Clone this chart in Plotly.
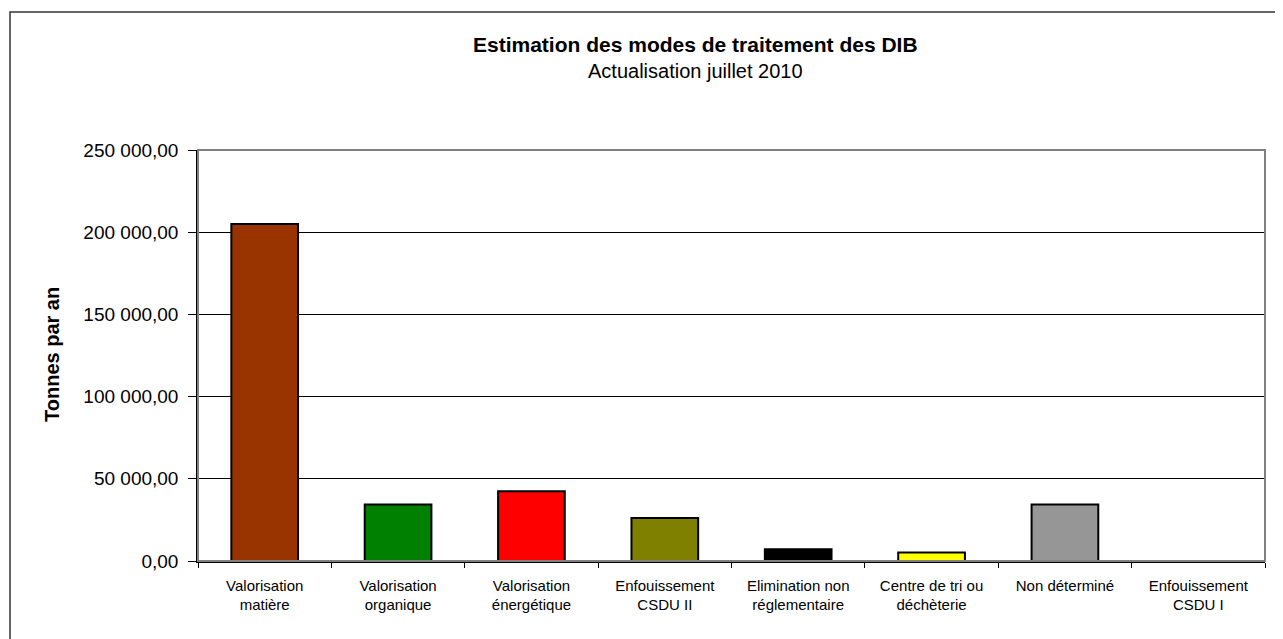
import plotly.graph_objects as go

categories = [
    "Valorisation<br>matière",
    "Valorisation<br>organique",
    "Valorisation<br>énergétique",
    "Enfouissement<br>CSDU II",
    "Elimination non<br>réglementaire",
    "Centre de tri ou<br>déchèterie",
    "Non déterminé",
    "Enfouissement<br>CSDU I",
]
values = [205000, 34300, 42400, 26200, 7100, 5100, 34300, 0]
colors = ["#993300", "#008000", "#FF0000", "#808000", "#000000", "#FFFF00", "#969696", "#808080"]

title_text = "<b>Estimation des modes de traitement des DIB</b>"
subtitle_text = "Actualisation juillet 2010"
y_title = "<b>Tonnes par an</b>"

# page has an 8px body margin; positions below are in screen pixels
OFF = 8
W, H = 1283, 639
L, T = 198 - OFF, 150 - OFF
R = W - (1265 - OFF)
B = H - (561 - OFF)
pw, ph = W - L - R, H - T - B

def px_x(x):
    return (x - OFF - L) / pw

def px_y(y):
    return (H - B - (y - OFF)) / ph

font = "Liberation Sans, Arial, sans-serif"

fig = go.Figure(go.Bar(
    x=categories, y=values,
    marker=dict(color=colors, line=dict(color="#000000", width=2)),
    width=0.5,
))

fig.update_layout(
    width=W, height=H,
    margin=dict(l=L, r=R, t=T, b=B, autoexpand=False),
    paper_bgcolor="white", plot_bgcolor="white",
    separators=", ",
    showlegend=False,
    font=dict(family=font, color="#000000"),
    annotations=[
        dict(text=title_text, xref="paper", yref="paper", x=px_x(695), y=px_y(45),
             xanchor="center", yanchor="middle", showarrow=False, font=dict(size=21)),
        dict(text=subtitle_text, xref="paper", yref="paper", x=px_x(695), y=px_y(70.5),
             xanchor="center", yanchor="middle", showarrow=False, font=dict(size=20)),
        dict(text=y_title, xref="paper", yref="paper", x=px_x(52), y=px_y(355),
             xanchor="center", yanchor="middle", showarrow=False, textangle=-90,
             font=dict(size=20)),
    ],
    shapes=[
        dict(type="rect", xref="paper", yref="paper", x0=0, x1=1, y0=0, y1=1,
             line=dict(color="#808080", width=2), layer="above"),
        dict(type="rect", xref="paper", yref="paper", x0=px_x(10), x1=px_x(1320),
             y0=px_y(12), y1=px_y(680), line=dict(color="#333333", width=1.5), layer="above"),
    ],
)

fig.update_xaxes(
    showline=True, linecolor="#000000", linewidth=1.5,
    ticks="outside", tickson="boundaries", ticklen=5, tickcolor="#000000",
    tickfont=dict(size=15), showgrid=False, ticklabelstandoff=10,
)
fig.update_yaxes(
    range=[0, 250000], tickvals=[0, 50000, 100000, 150000, 200000, 250000],
    tickformat=",.2f",
    showline=True, linecolor="#000000", linewidth=1.5,
    ticks="outside", ticklen=8, tickcolor="#000000",
    showgrid=True, gridcolor="#000000", gridwidth=1,
    tickfont=dict(size=19), zeroline=False, ticklabelstandoff=6,
)

fig.write_html("out.html")
